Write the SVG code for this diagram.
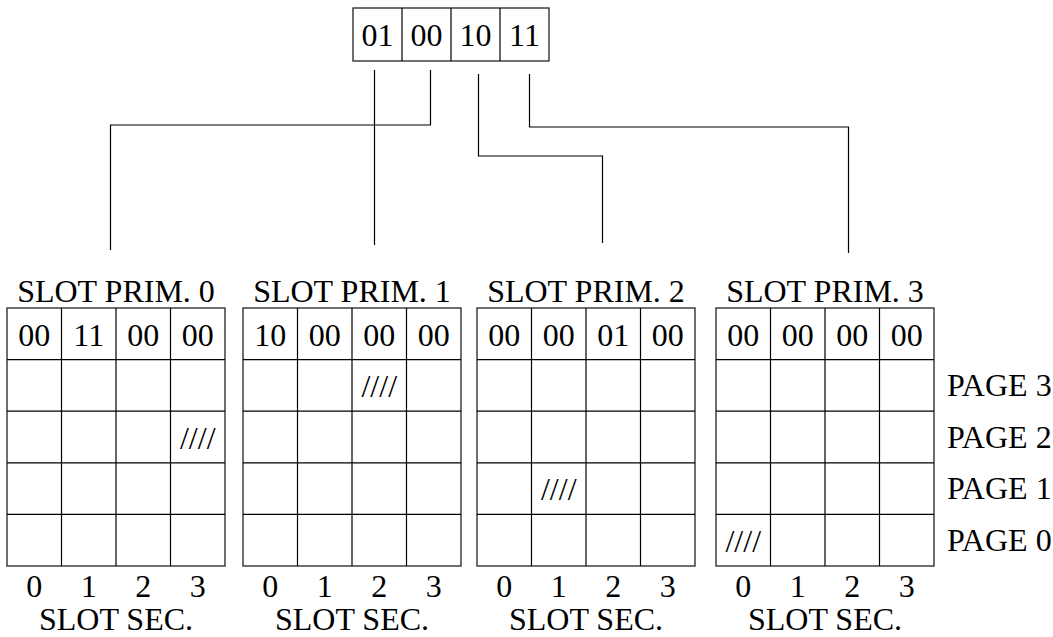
<svg xmlns="http://www.w3.org/2000/svg" width="1053" height="637" viewBox="0 0 1053 637">
  <style>
    text { font-family: "Liberation Serif", "Times New Roman", serif; font-size: 32px; fill: #000; }
    .c { text-anchor: middle; }
    .ln { fill: none; stroke: #000; stroke-width: 1.2; }
    .cell { fill: #fff; stroke: #222; stroke-width: 1.3; }
  </style>
  <defs>
    <!-- one slot: 4 columns x (header + 4 pages) -->
    <g id="gridLines">
      <rect class="cell" x="0" y="0" width="218" height="258"/>
      <path class="ln" stroke="#222" d="M54.5 0V258M109 0V258M163.5 0V258M0 51.6H218M0 103.2H218M0 154.8H218M0 206.4H218"/>
    </g>
  </defs>

  <rect width="1053" height="637" fill="#fff"/>

  <!-- address register -->
  <g id="register">
    <rect class="cell" x="353" y="8" width="196" height="53"/>
    <path class="ln" d="M402 8V61M451 8V61M500 8V61"/>
    <text class="c" x="377.5" y="46">01</text>
    <text class="c" x="426.5" y="46">00</text>
    <text class="c" x="475.5" y="46">10</text>
    <text class="c" x="524.5" y="46">11</text>
  </g>

  <!-- connectors from register fields to slots -->
  <g id="connectors">
    <path class="ln" d="M374.5 70V245"/>
    <path class="ln" d="M430.5 70V125H110.5V250"/>
    <path class="ln" d="M478.5 74V156H602.5V243"/>
    <path class="ln" d="M529.5 74V127H848.5V253"/>
  </g>

  <!-- primary slot 0 -->
  <g id="slot0" transform="translate(7,308)">
    <text class="c" x="109" y="-6">SLOT PRIM. 0</text>
    <use href="#gridLines"/>
    <text class="c" x="27.25" y="38">00</text>
    <text class="c" x="81.75" y="38">11</text>
    <text class="c" x="136.25" y="38">00</text>
    <text class="c" x="190.75" y="38">00</text>
    <text class="c" x="190.75" y="140.5">////</text>
    <text class="c" x="27.25" y="289">0</text>
    <text class="c" x="81.75" y="289">1</text>
    <text class="c" x="136.25" y="289">2</text>
    <text class="c" x="190.75" y="289">3</text>
    <text class="c" x="109" y="322">SLOT SEC.</text>
  </g>

  <!-- primary slot 1 -->
  <g id="slot1" transform="translate(243,308)">
    <text class="c" x="109" y="-6">SLOT PRIM. 1</text>
    <use href="#gridLines"/>
    <text class="c" x="27.25" y="38">10</text>
    <text class="c" x="81.75" y="38">00</text>
    <text class="c" x="136.25" y="38">00</text>
    <text class="c" x="190.75" y="38">00</text>
    <text class="c" x="136.25" y="89">////</text>
    <text class="c" x="27.25" y="289">0</text>
    <text class="c" x="81.75" y="289">1</text>
    <text class="c" x="136.25" y="289">2</text>
    <text class="c" x="190.75" y="289">3</text>
    <text class="c" x="109" y="322">SLOT SEC.</text>
  </g>

  <!-- primary slot 2 -->
  <g id="slot2" transform="translate(477,308)">
    <text class="c" x="109" y="-6">SLOT PRIM. 2</text>
    <use href="#gridLines"/>
    <text class="c" x="27.25" y="38">00</text>
    <text class="c" x="81.75" y="38">00</text>
    <text class="c" x="136.25" y="38">01</text>
    <text class="c" x="190.75" y="38">00</text>
    <text class="c" x="81.75" y="192">////</text>
    <text class="c" x="27.25" y="289">0</text>
    <text class="c" x="81.75" y="289">1</text>
    <text class="c" x="136.25" y="289">2</text>
    <text class="c" x="190.75" y="289">3</text>
    <text class="c" x="109" y="322">SLOT SEC.</text>
  </g>

  <!-- primary slot 3 -->
  <g id="slot3" transform="translate(716,308)">
    <text class="c" x="109" y="-6">SLOT PRIM. 3</text>
    <use href="#gridLines"/>
    <text class="c" x="27.25" y="38">00</text>
    <text class="c" x="81.75" y="38">00</text>
    <text class="c" x="136.25" y="38">00</text>
    <text class="c" x="190.75" y="38">00</text>
    <text class="c" x="27.25" y="243.5">////</text>
    <text class="c" x="27.25" y="289">0</text>
    <text class="c" x="81.75" y="289">1</text>
    <text class="c" x="136.25" y="289">2</text>
    <text class="c" x="190.75" y="289">3</text>
    <text class="c" x="109" y="322">SLOT SEC.</text>
  </g>

  <!-- page labels -->
  <g id="pages">
    <text x="947" y="396">PAGE 3</text>
    <text x="947" y="448">PAGE 2</text>
    <text x="947" y="499">PAGE 1</text>
    <text x="947" y="551">PAGE 0</text>
  </g>
</svg>
